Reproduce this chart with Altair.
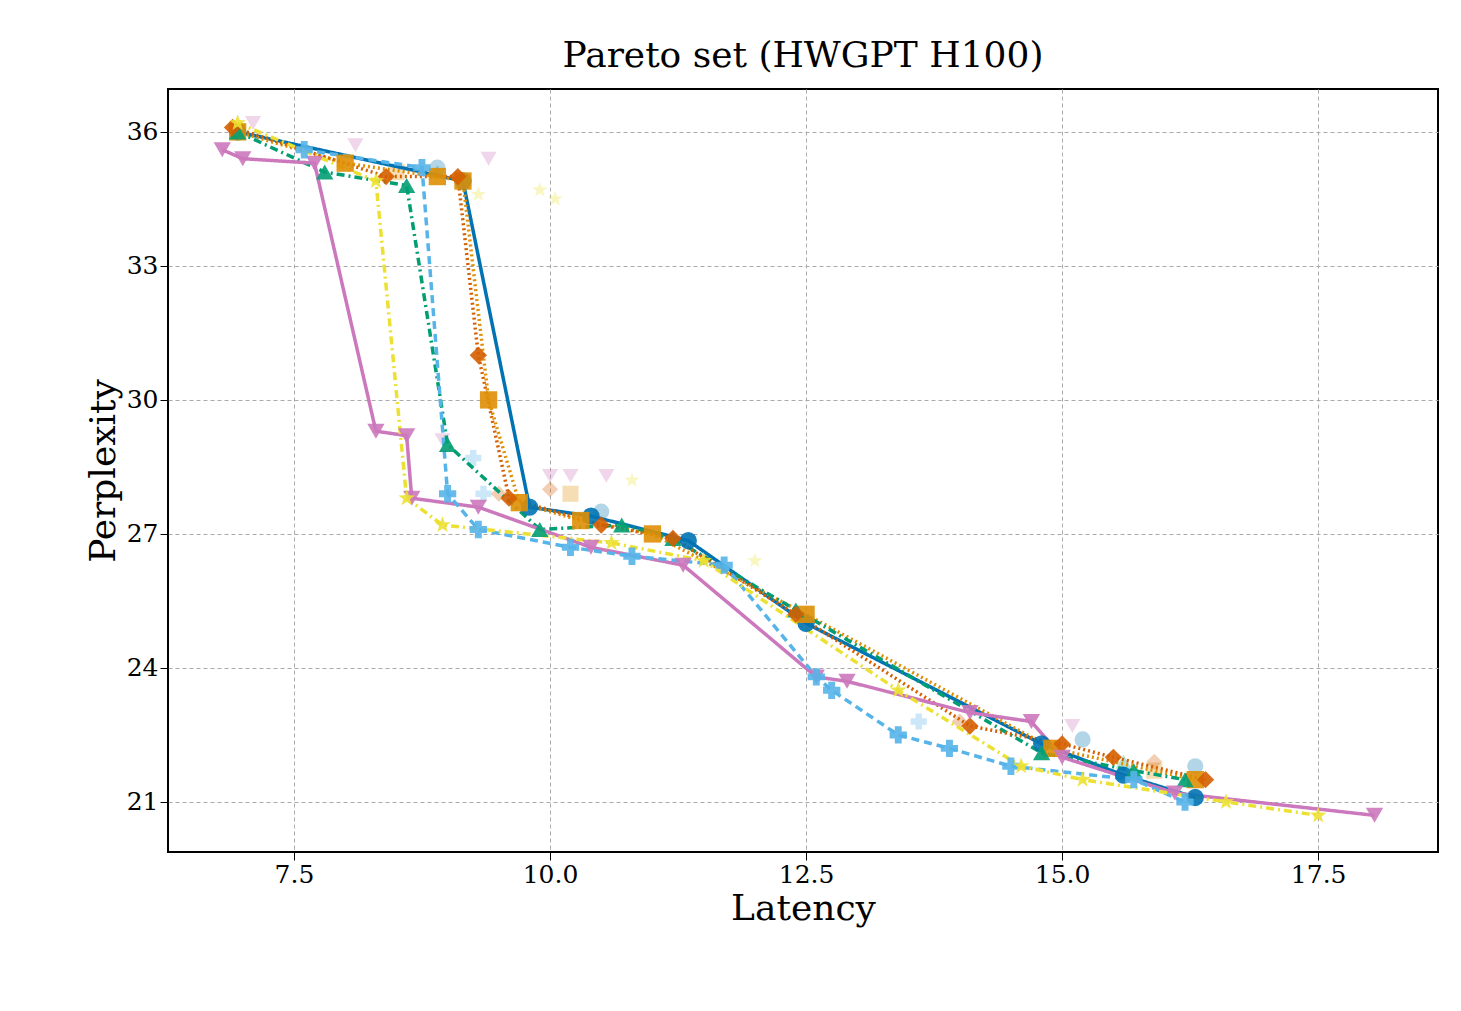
import altair as alt
import pandas as pd

methods = ["LSBO", "NSGA2", "RS", "RSBO", "mooLLM (GPT4o-mini)", "mooLLM (QwQ-32B)",
           "mooLLM-Int-ToT (Gemini 1.5 Flash)"]
colors = ["#0173b2", "#de8f05", "#029e73", "#d55e00", "#cc78bc", "#56b4e9", "#ece133"]
shapes = ["circle", "square", "triangle-up", "diamond", "triangle-down", "cross", "M0,-1L0.24,-0.33L0.95,-0.31L0.39,0.12L0.59,0.81L0,0.4L-0.59,0.81L-0.39,0.12L-0.95,-0.31L-0.24,-0.33Z"]
dashes = [[1, 0], [2, 3], [8, 4, 2, 4], [2, 3], [1, 0], [8, 5], [8, 4, 2, 4]]

# pareto front points per method (latency, perplexity)
pareto = {
    "LSBO": [(6.95, 36.0), (9.15, 34.9), (9.8, 27.6), (10.4, 27.4), (11.35, 26.85), (12.5, 25.0),
             (14.8, 22.3), (15.6, 21.6), (16.3, 21.1)],
    "NSGA2": [(6.95, 36.0), (8.0, 35.3), (8.9, 35.0), (9.15, 34.9), (9.4, 30.0), (9.7, 27.7),
              (10.3, 27.3), (11.0, 27.0), (12.5, 25.2), (14.9, 22.2), (16.3, 21.5)],
    "RS": [(6.95, 36.0), (7.8, 35.1), (8.6, 34.8), (9.0, 29.0), (9.9, 27.1), (10.7, 27.2),
           (11.2, 26.9), (12.4, 25.3), (14.8, 22.1), (15.7, 21.7), (16.2, 21.5)],
    "RSBO": [(6.9, 36.1), (8.4, 35.0), (9.1, 35.0), (9.3, 31.0), (9.6, 27.8), (10.5, 27.2),
             (11.2, 26.9), (12.4, 25.2), (14.1, 22.7), (15.0, 22.3), (15.5, 22.0), (16.4, 21.5)],
    "mooLLM (GPT4o-mini)": [(6.8, 35.6), (7.0, 35.4), (7.7, 35.3), (8.3, 29.3), (8.6, 29.2),
                            (8.65, 27.8), (9.3, 27.6), (10.4, 26.7), (11.3, 26.3), (12.6, 23.8),
                            (12.9, 23.7), (14.1, 23.0), (14.7, 22.8), (15.0, 22.0), (16.1, 21.2),
                            (18.05, 20.7)],
    "mooLLM (QwQ-32B)": [(7.6, 35.6), (8.75, 35.2), (9.0, 27.9), (9.3, 27.1), (10.2, 26.7),
                         (10.8, 26.5), (11.7, 26.3), (12.6, 23.8), (12.75, 23.5), (13.4, 22.5),
                         (13.9, 22.2), (14.5, 21.8), (15.7, 21.5), (16.2, 21.0)],
    "mooLLM-Int-ToT (Gemini 1.5 Flash)": [(6.95, 36.2), (8.3, 34.9), (8.6, 27.8), (8.95, 27.2),
                                          (10.6, 26.8), (11.5, 26.4), (13.4, 23.5), (14.6, 21.8),
                                          (15.2, 21.5), (16.6, 21.0), (17.5, 20.7)],
}

# other (dominated) evaluated points, drawn faded
others = {
    "LSBO": [(10.5, 27.5), (15.2, 22.4), (16.3, 21.8), (8.9, 35.2)],
    "NSGA2": [(8.5, 35.1), (10.2, 27.9), (15.9, 21.7)],
    "RS": [(8.9, 35.1), (15.6, 21.9)],
    "RSBO": [(9.5, 27.9), (10.0, 28.0), (14.0, 22.8), (15.9, 21.9)],
    "mooLLM (GPT4o-mini)": [(7.1, 36.2), (8.1, 35.7), (9.4, 35.4), (8.95, 29.1), (10.0, 28.3),
                            (10.2, 28.3), (10.55, 28.3), (15.1, 22.7)],
    "mooLLM (QwQ-32B)": [(9.25, 28.7), (9.35, 27.9), (13.6, 22.8)],
    "mooLLM-Int-ToT (Gemini 1.5 Flash)": [(9.9, 34.7), (10.05, 34.5), (12.0, 26.4), (10.8, 28.2),
                                          (9.3, 34.6)],
}

rows = []
for m in methods:
    for i, (x, y) in enumerate(pareto[m]):
        rows.append({"method": m, "latency": x, "perplexity": y, "order": i, "pareto": True})
    for x, y in others[m]:
        rows.append({"method": m, "latency": x, "perplexity": y, "order": 0, "pareto": False})
df = pd.DataFrame(rows)

xs = alt.X("latency:Q", title="Latency", scale=alt.Scale(domain=[6.27, 18.67], nice=False, zero=False),
           axis=alt.Axis(values=[7.5, 10.0, 12.5, 15.0, 17.5], format=".1f"))
ys = alt.Y("perplexity:Q", title="Perplexity", scale=alt.Scale(domain=[19.88, 36.96], nice=False, zero=False),
           axis=alt.Axis(values=[21, 24, 27, 30, 33, 36]))
col = alt.Color("method:N", scale=alt.Scale(domain=methods, range=colors), title="Methods")
shp = alt.Shape("method:N", scale=alt.Scale(domain=methods, range=shapes), title="Methods")

base = alt.Chart(df)
faded = base.transform_filter("!datum.pareto").mark_point(filled=True, size=260, opacity=0.3).encode(
    x=xs, y=ys, color=col, shape=shp)
lines = base.transform_filter("datum.pareto").mark_line(strokeWidth=3.5).encode(
    x=xs, y=ys, order="order:Q", color=col,
    strokeDash=alt.StrokeDash("method:N", scale=alt.Scale(domain=methods, range=dashes), legend=None))
pts = base.transform_filter("datum.pareto").mark_point(filled=True, size=300, opacity=0.9).encode(
    x=xs, y=ys, color=col, shape=shp)

chart = (alt.layer(faded, lines, pts)
         .properties(width=1270, height=763, title="Pareto set (HWGPT H100)",
                     padding={"left": 77, "top": 30, "right": 5, "bottom": 5})
         .configure(font="DejaVu Serif")
         .configure_title(fontSize=36, fontWeight="normal", offset=14)
         .configure_view(stroke="black", strokeWidth=2)
         .configure_axis(grid=True, gridColor="#aaaaaa", gridDash=[4, 3], labelFontSize=25,
                         titleFontSize=36, titleFontWeight="normal", domain=False, tickColor="black",
                         tickSize=8, labelColor="black", titleColor="black")
         .configure_legend(orient="none", legendX=552, legendY=16, strokeColor="black", fillColor="white",
                           padding=16, labelFontSize=22, titleFontSize=22, titleFontWeight="normal",
                           titleAnchor="middle", symbolSize=380, rowPadding=18, labelLimit=800,
                           symbolOpacity=0.9, titlePadding=14, symbolStrokeWidth=0))

chart.save("out.html", embed_options={"renderer": "svg", "actions": False})
